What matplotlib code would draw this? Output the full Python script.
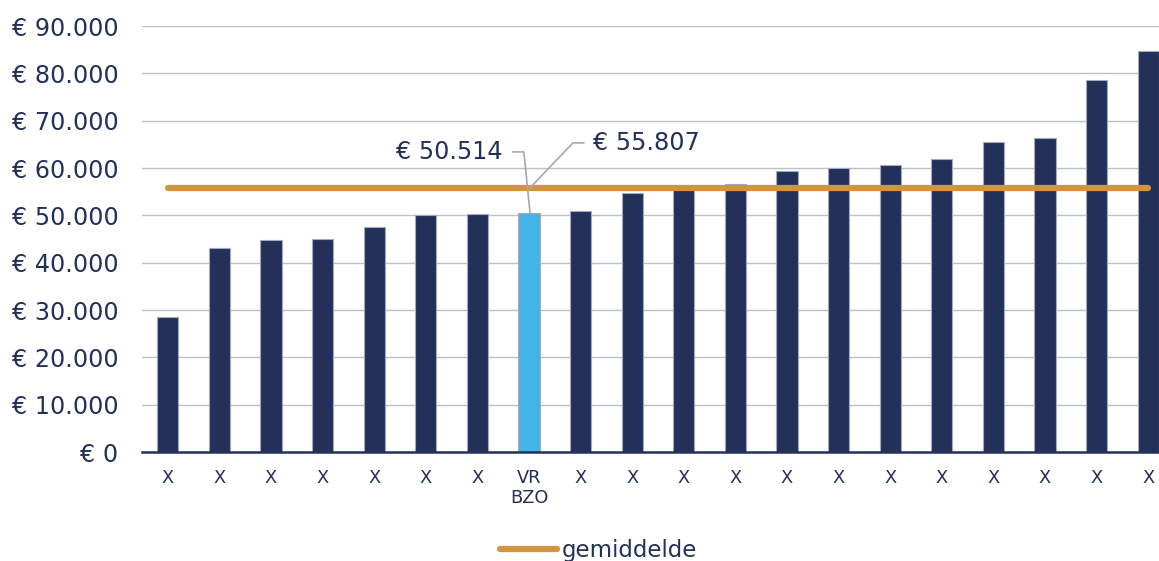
import matplotlib
matplotlib.use("Agg")
import matplotlib.pyplot as plt
from matplotlib.lines import Line2D

categories = ["X", "X", "X", "X", "X", "X", "X", "VR\nBZO", "X", "X",
              "X", "X", "X", "X", "X", "X", "X", "X", "X", "X"]
values = [28600, 43100, 44800, 45000, 47500, 50100, 50200, 50514, 50900, 54700,
          56000, 56600, 59400, 60000, 60600, 61900, 65500, 66300, 78600, 84700]
highlight_index = 7
average = 55807
yticks = list(range(0, 90001, 10000))

def euro(v):
    return "€ " + f"{v:,.0f}".replace(",", ".")

NAVY = "#22305A"
LIGHT = "#41B6E6"
ORANGE = "#D4943F"
GRID = "#BCC0C8"
LEADER = "#A8A8A8"

plt.rcParams["font.family"] = ["DejaVu Sans"]

W, H = 1159, 561
fig = plt.figure(figsize=(W / 100, H / 100), dpi=100)
left_px, bottom_px, top_px = 142, 452, 26
step_px = 51.6
ax = fig.add_axes([left_px / W, (H - bottom_px) / H,
                   step_px * len(values) / W, (bottom_px - top_px) / H])

x = list(range(len(values)))
colors = [LIGHT if i == highlight_index else NAVY for i in x]
ax.bar(x, values, width=0.41, color=colors, edgecolor="#A3AABB", linewidth=0.8, zorder=3)

ax.plot([x[0], x[-1]], [average, average], color=ORANGE, lw=4.5,
        solid_capstyle="round", zorder=4, label="gemiddelde")

ax.set_xlim(-0.5, len(values) - 0.5)
ax.set_ylim(0, 90000)
ax.set_yticks(yticks)
ax.set_yticklabels([euro(v) for v in yticks])
ax.set_xticks(x)
ax.set_xticklabels(categories)
ax.yaxis.grid(True, color=GRID, lw=1.0, zorder=0)
ax.set_axisbelow(True)
for s in ["top", "right", "left"]:
    ax.spines[s].set_visible(False)
ax.spines["bottom"].set_color(NAVY)
ax.spines["bottom"].set_linewidth(1.8)
ax.spines["bottom"].set_zorder(5)
ax.tick_params(axis="y", length=0, pad=17, labelsize=17.2, labelcolor=NAVY)
ax.tick_params(axis="x", length=0, pad=12, labelsize=12.8, labelcolor=NAVY)

# annotations
hv = values[highlight_index]
hx = x[highlight_index]
ax.plot([hx - 0.31, hx - 0.10, hx + 0.02], [63400, 63400, hv], color=LEADER, lw=1.2, zorder=6)
ax.text(hx - 0.51, 63300, euro(hv), ha="right", va="center", fontsize=17.2, color=NAVY)
ax.plot([hx + 0.02, hx + 0.85, hx + 1.06], [average, 65300, 65300], color=LEADER, lw=1.2, zorder=6)
ax.text(hx + 1.24, 65300, euro(average), ha="left", va="center", fontsize=17.2, color=NAVY)

handle = Line2D([], [], color=ORANGE, lw=4.5, solid_capstyle="round")
fig.legend([handle], ["gemiddelde"], loc="center left",
           bbox_to_anchor=(500 / W, 1 - 551 / H), frameon=False, fontsize=16.5,
           handlelength=2.5, handletextpad=0.2, borderpad=0, borderaxespad=0,
           labelcolor=NAVY)

fig.savefig("out.png", dpi=100)
